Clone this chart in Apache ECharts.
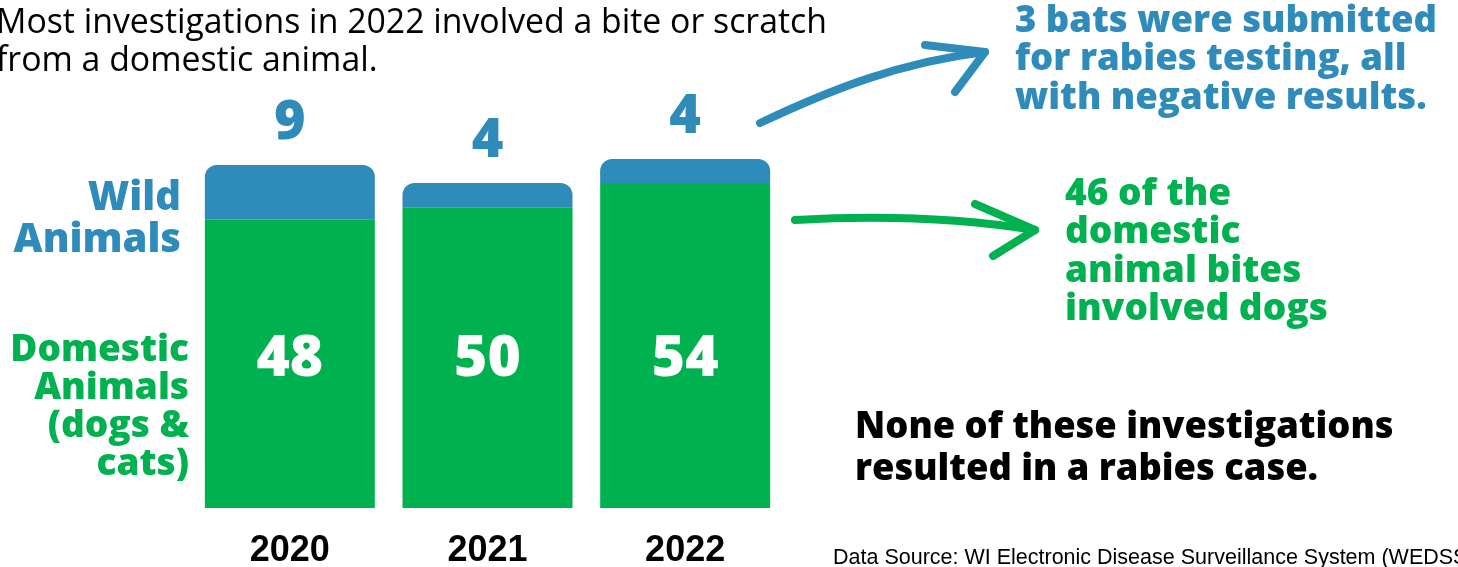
<!DOCTYPE html>
<html>
<head>
<meta charset="utf-8">
<script src="https://cdn.jsdelivr.net/npm/echarts@6/dist/echarts.min.js"></script>
<style>
  html, body { margin: 0; padding: 0; background: #fff; }
  #chart { width: 1458px; height: 567px; }
</style>
</head>
<body>
<div id="chart"></div>
<script>
const years = ['2020', '2021', '2022'];
const domesticCounts = [48, 50, 54];
const wildCounts = [9, 4, 4];

const GREEN = '#00b14f';
const BLUE = '#2e8bba';
const boldFont = '"Open Sans", Lato, sans-serif';

const chart = echarts.init(document.getElementById('chart'));

const arrowStroke = (c) => ({ stroke: c, lineWidth: 8, fill: null, lineCap: 'round', lineJoin: 'round' });

const option = {
  animation: false,
  grid: { left: 191, right: 674, top: 147, bottom: 59, outerBoundsMode: 'none', containLabel: false },
  xAxis: {
    type: 'category',
    data: years,
    axisLine: { show: false },
    axisTick: { show: false },
    axisLabel: {
      margin: 25,
      fontFamily: '"Liberation Sans", Arial, sans-serif',
      fontWeight: 'bold',
      fontSize: 36,
      color: '#000'
    }
  },
  yAxis: {
    type: 'value',
    min: 0,
    max: 60,
    show: false,
    splitLine: { show: false }
  },
  series: [
    {
      name: 'Domestic Animals',
      type: 'bar',
      stack: 'all',
      barCategoryGap: '14%',
      data: domesticCounts,
      itemStyle: { color: GREEN },
      label: {
        show: true,
        position: 'insideBottom',
        distance: 120,
        color: '#fff',
        fontFamily: boldFont,
        fontWeight: 800,
        fontSize: 57
      }
    },
    {
      name: 'Wild Animals',
      type: 'bar',
      stack: 'all',
      data: wildCounts,
      itemStyle: { color: BLUE, borderRadius: [12, 12, 0, 0] },
      label: {
        show: true,
        position: 'top',
        distance: 14,
        color: BLUE,
        fontFamily: boldFont,
        fontWeight: 800,
        fontSize: 54
      }
    }
  ],
  graphic: [
    {
      type: 'text', x: -4, y: 4,
      style: {
        text: 'Most investigations in 2022 involved a bite or scratch\nfrom a domestic animal.',
        font: '33.8px "Open Sans", sans-serif', fill: '#000', lineHeight: 38
      }
    },
    {
      type: 'text', x: 181, y: 178,
      style: {
        text: 'Wild\nAnimals', textAlign: 'right', align: 'right',
        font: '800 40px ' + boldFont, fill: BLUE, lineHeight: 42
      }
    },
    {
      type: 'text', x: 189, y: 331,
      style: {
        text: 'Domestic\nAnimals\n(dogs &\ncats)', textAlign: 'right', align: 'right',
        font: '800 37px ' + boldFont, fill: GREEN, lineHeight: 38
      }
    },
    {
      type: 'text', x: 1015, y: 2,
      style: {
        text: '3 bats were submitted\nfor rabies testing, all\nwith negative results.',
        font: '800 36.5px ' + boldFont, fill: BLUE, lineHeight: 38.5
      }
    },
    {
      type: 'text', x: 1065, y: 175,
      style: {
        text: '46 of the\ndomestic\nanimal bites\ninvolved dogs',
        font: '800 37px ' + boldFont, fill: GREEN, lineHeight: 38.5
      }
    },
    {
      type: 'text', x: 855, y: 407,
      style: {
        text: 'None of these investigations\nresulted in a rabies case.',
        font: '800 36.3px ' + boldFont, fill: '#000', lineHeight: 42
      }
    },
    {
      type: 'text', x: 833, y: 547,
      style: {
        text: 'Data Source: WI Electronic Disease Surveillance System (WEDSS)',
        font: '21.5px "Liberation Sans", Arial, sans-serif', fill: '#000'
      }
    },
    {
      type: 'bezierCurve',
      shape: { x1: 760, y1: 123, cpx1: 830, cpy1: 90, cpx2: 900, cpy2: 62, x2: 985, y2: 52 },
      style: arrowStroke(BLUE)
    },
    {
      type: 'polyline',
      shape: { points: [[925, 45], [985, 52], [955, 92]] },
      style: arrowStroke(BLUE)
    },
    {
      type: 'bezierCurve',
      shape: { x1: 795, y1: 220, cpx1: 880, cpy1: 215, cpx2: 960, cpy2: 218, x2: 1035, y2: 230 },
      style: arrowStroke(GREEN)
    },
    {
      type: 'polyline',
      shape: { points: [[975, 204], [1035, 230], [993, 256]] },
      style: arrowStroke(GREEN)
    }
  ]
};

chart.setOption(option);
</script>
</body>
</html>
